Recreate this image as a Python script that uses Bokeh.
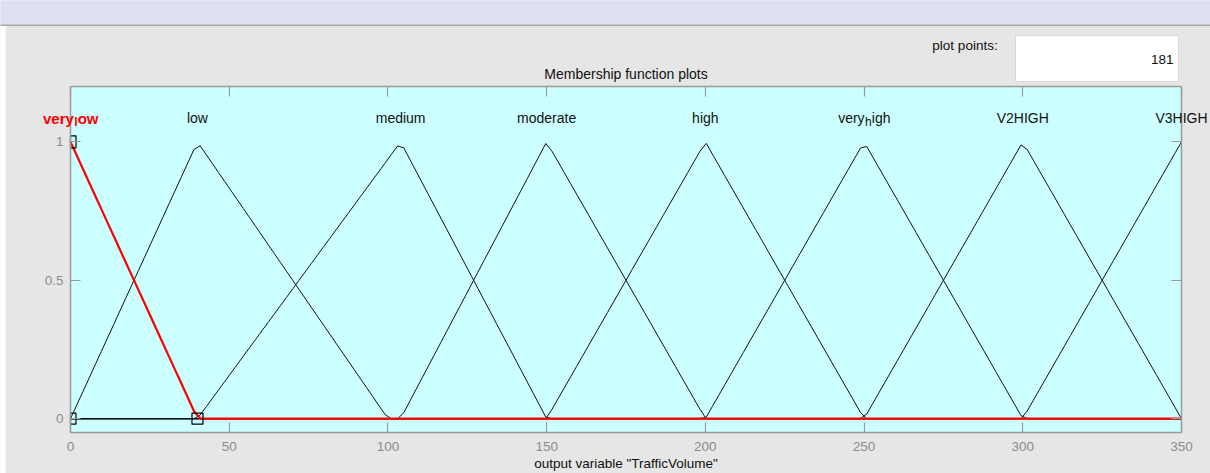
import numpy as np
from bokeh.plotting import figure
from bokeh.models import Label, BoxAnnotation, LinearAxis, FixedTicker, Range1d
from bokeh.embed import file_html
from bokeh.resources import INLINE

# ---------------- data ----------------
mf_names = ["very_low", "low", "medium", "moderate", "high", "very_high", "V2HIGH", "V3HIGH"]
mf_a = [-40, 0, 40, 104, 150, 200, 250, 300]
mf_b = [0, 40, 104, 150, 200, 250, 300, 350]
mf_c = [40, 100, 150, 200, 250, 300, 350, 400]
selected_mf = "very_low"
x_ticks = [0, 50, 100, 150, 200, 250, 300, 350]
y_ticks = [0, 0.5, 1]
y_tick_labels = {0: "0", 0.5: "0.5", 1: "1"}
plot_points = 181
var_range = [0, 350]
title_text = "Membership function plots"
xlabel_text = 'output variable "TrafficVolume"'
points_label = "plot points:"

# ---------------- layout ----------------
W, H = 1210, 473
L, R, T, B = 70, 29, 86, 41          # axes box inside the canvas
FW, FH = W - L - R, H - T - B
y_lo, y_hi = -0.05, 1.2
sx = FW / (var_range[1] - var_range[0])
sy = FH / (y_hi - y_lo)


def dx(px):
    return var_range[0] + (px - L) / sx


def dy(py):
    return y_hi - (py - T) / sy


FONT = "Liberation Sans"
GRAY = "#9A9A9A"

p = figure(width=W, height=H, x_range=Range1d(dx(0), dx(W)), y_range=Range1d(dy(H), dy(0)),
           output_backend="svg", toolbar_location=None,
           min_border_left=0, min_border_right=0, min_border_top=0, min_border_bottom=0,
           background_fill_color="#E6E6E6", border_fill_color="#E6E6E6",
           outline_line_color=None, x_axis_location=None, y_axis_location=None)
p.grid.visible = False

# cyan axes area
p.add_layout(BoxAnnotation(left=var_range[0], right=var_range[1], bottom=y_lo, top=y_hi,
                           fill_color="#CCFFFF", fill_alpha=1, line_color=None, level="underlay"))


def make_axis(ticks, show_labels, loc, bounds, standoff=9, overrides=None):
    ax = LinearAxis(ticker=FixedTicker(ticks=ticks), fixed_location=loc, bounds=bounds)
    if overrides:
        ax.major_label_overrides = overrides
    ax.axis_line_color = GRAY
    ax.axis_line_width = 1.5
    ax.major_tick_line_color = GRAY
    ax.major_tick_line_width = 1.2
    ax.major_tick_in = 10
    ax.major_tick_out = 0
    ax.minor_tick_line_color = None
    ax.major_label_text_font = FONT
    ax.major_label_text_font_size = "13.5px"
    if show_labels:
        ax.major_label_text_color = "#8C8C8C"
        ax.major_label_standoff = standoff
    else:
        ax.major_label_text_color = None
    return ax


p.add_layout(make_axis(x_ticks, True, y_lo, (var_range[0], var_range[1]), 9), "below")
p.add_layout(make_axis(x_ticks, False, y_hi, (var_range[0], var_range[1])), "above")
p.add_layout(make_axis(y_ticks, True, var_range[0], (y_lo, y_hi), 7, y_tick_labels), "left")
p.add_layout(make_axis(y_ticks, False, var_range[1], (y_lo, y_hi)), "right")

# ---------------- membership functions ----------------
xs = np.linspace(var_range[0], var_range[1], plot_points)


def trimf(x, a, b, c):
    left = (x - a) / (b - a)
    right = (c - x) / (c - b)
    return np.maximum(np.minimum(left, right), 0)


sel_idx = mf_names.index(selected_mf)
for i, name in enumerate(mf_names):
    if i == sel_idx:
        continue
    p.line(xs, trimf(xs, mf_a[i], mf_b[i], mf_c[i]), line_color="#111111", line_width=1)
p.line(xs, trimf(xs, mf_a[sel_idx], mf_b[sel_idx], mf_c[sel_idx]),
       line_color="#FF0000", line_width=2.2)

# vertex squares of the selected MF (clipped to the axes box)
sq_x = [mf_b[sel_idx], var_range[0], mf_c[sel_idx]]
sq_y = [1, 0, 0]
sq_w = [11 / sx, 11 / sx, 11 / sx]
sq_h = [12 / sy, 11 / sy, 11 / sy]
sq_left = [max(x - w / 2, var_range[0]) for x, w in zip(sq_x, sq_w)]
sq_right = [x + w / 2 for x, w in zip(sq_x, sq_w)]
sq_bot = [y - h / 2 for y, h in zip(sq_y, sq_h)]
sq_top = [y + h / 2 for y, h in zip(sq_y, sq_h)]
p.quad(left=sq_left, right=sq_right, bottom=sq_bot, top=sq_top,
       fill_color=None, line_color="#000000", line_width=1.2)

# ---------------- MF labels (TeX style subscripts) ----------------
W_REG = dict(a=556, b=556, c=500, d=556, e=556, f=278, g=556, h=556, i=222, l=222, m=833,
             n=556, o=556, r=333, t=278, u=556, v=500, w=722, y=500)
W_BOLD = dict(a=556, e=556, g=611, h=611, i=278, l=278, o=611, r=389, v=556, w=778, y=556)


def twidth(s, size, bold):
    tab = W_BOLD if bold else W_REG
    return sum(tab.get(ch, 600) for ch in s) / 1000.0 * size


label_y = dy(117.5)
for i, name in enumerate(mf_names):
    is_sel = i == sel_idx
    color = "#FF0000" if is_sel else "#111111"
    style = "bold" if is_sel else "normal"
    size = 15 if is_sel else 14
    xc = mf_b[i]
    if "_" in name:
        head, tail = name.split("_", 1)
        parts = [(head, size, 0), (tail[0], 12, -4), (tail[1:], size, 0)]
        total = sum(twidth(t, s, is_sel) for t, s, _ in parts)
        off = -total / 2
        for t, s, yo in parts:
            if t == tail[0]:
                off += 0.5
            p.add_layout(Label(x=xc, y=label_y, text=t, x_offset=off, y_offset=yo,
                               text_align="left", text_baseline="alphabetic",
                               text_font=FONT, text_font_size=f"{s}px", text_font_style=style,
                               text_color=color))
            off += twidth(t, s, is_sel)
    else:
        p.add_layout(Label(x=xc, y=label_y, text=name, text_align="center",
                           text_baseline="alphabetic", text_font=FONT,
                           text_font_size=f"{size}px", text_font_style=style, text_color=color))

# ---------------- surrounding window decoration ----------------
p.add_layout(BoxAnnotation(left=dx(-20), right=dx(W + 20), top=dy(-20), bottom=dy(24),
                           fill_color="#DCE0F0", fill_alpha=1, line_color=None))
p.add_layout(BoxAnnotation(left=dx(-20), right=dx(W + 20), top=dy(24), bottom=dy(25.5),
                           fill_color="#A8A8A8", fill_alpha=1, line_color=None))
p.add_layout(BoxAnnotation(left=dx(-20), right=dx(5), top=dy(25.5), bottom=dy(H + 20),
                           fill_color="#FFFFFF", fill_alpha=1, line_color=None))
p.add_layout(BoxAnnotation(left=dx(1015), right=dx(1178), top=dy(35), bottom=dy(81),
                           fill_color="#FFFFFF", fill_alpha=1, line_color="#A0A0A0", line_width=1))

p.add_layout(Label(x=dx(1173), y=dy(59), text=str(plot_points), text_align="right",
                   text_baseline="middle", text_font=FONT, text_font_size="13.5px",
                   text_color="#111111"))
p.add_layout(Label(x=dx(964.5), y=dy(45), text=points_label, text_align="center",
                   text_baseline="middle", text_font=FONT, text_font_size="13.5px",
                   text_color="#111111"))
p.add_layout(Label(x=(var_range[0] + var_range[1]) / 2, y=dy(73), text=title_text,
                   text_align="center", text_baseline="alphabetic", text_font=FONT,
                   text_font_size="14px", text_color="#111111"))
p.add_layout(Label(x=(var_range[0] + var_range[1]) / 2, y=dy(463), text=xlabel_text,
                   text_align="center", text_baseline="alphabetic", text_font=FONT,
                   text_font_size="13.5px", text_color="#111111"))

open("out.html", "w").write(file_html(p, INLINE))
